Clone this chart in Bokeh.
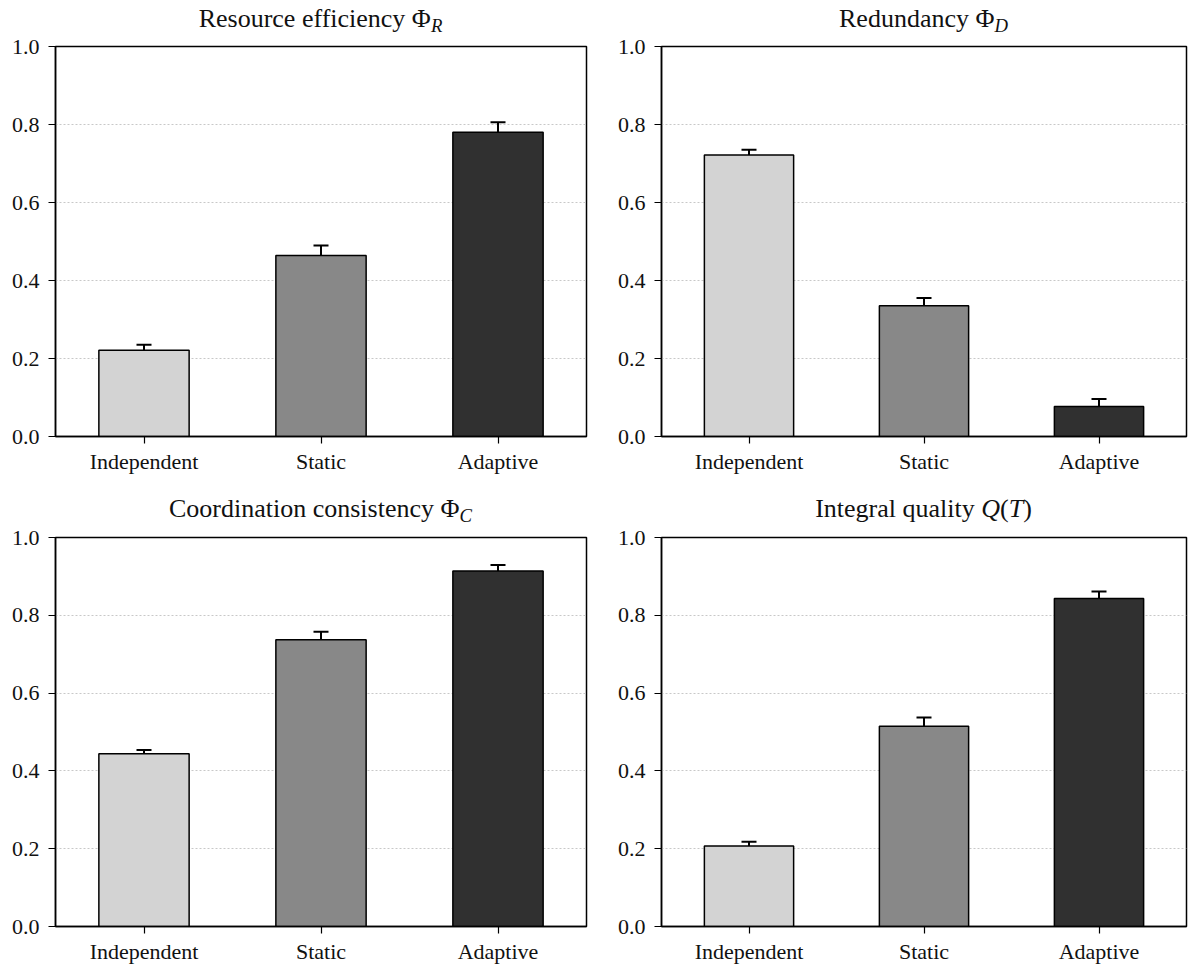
from bokeh.plotting import figure
from bokeh.layouts import column, row
from bokeh.models import (ColumnDataSource, Whisker, TeeHead, FactorRange, Range1d,
                          FixedTicker, NumeralTickFormatter, Div)
from bokeh.embed import file_html
from bokeh.resources import INLINE

categories = ["Independent", "Static", "Adaptive"]
bar_colors = ["#d3d3d3", "#888888", "#303030"]

SUB = '<span style="font-size:0.72em;vertical-align:-0.25em;line-height:0;font-style:italic">{}</span>'
titles = [
    "Resource efficiency Φ" + SUB.format("R"),
    "Redundancy Φ" + SUB.format("D"),
    "Coordination consistency Φ" + SUB.format("C"),
    "Integral quality <i>Q</i>(<i>T</i>)",
]

resource_mean = [0.221, 0.464, 0.780]
resource_err = [0.014, 0.026, 0.026]
redundancy_mean = [0.722, 0.335, 0.077]
redundancy_err = [0.013, 0.020, 0.019]
coordination_mean = [0.444, 0.737, 0.914]
coordination_err = [0.010, 0.021, 0.015]
quality_mean = [0.207, 0.515, 0.843]
quality_err = [0.011, 0.022, 0.018]

y_ticks = [0.0, 0.2, 0.4, 0.6, 0.8, 1.0]

FONT = "'Liberation Serif', 'Times New Roman', 'DejaVu Serif', serif"


def make_panel(title_html, means, errs, left, fw, right, top_div_h, pad_top, bottom, fh):
    src = ColumnDataSource(dict(
        cat=categories, val=means,
        up=[m + e for m, e in zip(means, errs)],
        lo=[m - e for m, e in zip(means, errs)],
        color=bar_colors,
    ))
    p = figure(x_range=FactorRange(*categories), y_range=Range1d(0, 1),
               frame_width=fw, frame_height=fh,
               min_border_left=left, min_border_right=right,
               min_border_top=12, min_border_bottom=bottom,
               output_backend="svg", toolbar_location=None,
               background_fill_color="white", border_fill_color="white")
    p.vbar(x="cat", top="val", width=0.51, source=src, fill_color="color",
           line_color="black", line_width=1.5)
    w = Whisker(source=src, base="cat", upper="up", lower="lo",
                line_color="black", line_width=2,
                upper_head=TeeHead(size=15, line_width=2, line_color="black"),
                lower_head=TeeHead(size=15, line_width=2, line_color="black"))
    p.add_layout(w)

    p.outline_line_color = "black"
    p.outline_line_width = 1.5
    p.xgrid.grid_line_color = None
    p.ygrid.grid_line_color = "#c8c8c8"
    p.ygrid.grid_line_dash = "2 2"
    p.ygrid.grid_line_width = 1
    p.yaxis.ticker = FixedTicker(ticks=y_ticks)
    p.yaxis.formatter = NumeralTickFormatter(format="0.0")
    for ax in (p.xaxis, p.yaxis):
        ax.axis_line_color = "black"
        ax.axis_line_width = 1.5
        ax.major_tick_line_color = "black"
        ax.major_tick_line_width = 1.2
        ax.major_tick_out = 7
        ax.major_tick_in = 0
        ax.minor_tick_line_color = None
        ax.major_label_text_font = FONT
        ax.major_label_text_font_size = "22px"
        ax.major_label_text_color = "#111111"
    p.yaxis.major_label_standoff = 9
    p.xaxis.major_label_standoff = 5

    div = Div(text=title_html, width=fw, height=top_div_h, margin=(0, 0, 0, left),
              styles={"font-family": FONT, "font-size": "26px", "text-align": "center",
                      "padding-top": f"{pad_top}px", "line-height": "1", "color": "#111111",
                      "width": f"{fw}px", "box-sizing": "border-box",
                      "white-space": "nowrap"})
    return column(div, p, margin=0, spacing=0)


c1 = make_panel(titles[0], resource_mean, resource_err, 55, 531, 12, 34, 6, 47, 390)
c2 = make_panel(titles[1], redundancy_mean, redundancy_err, 63, 525, 10, 34, 6, 47, 390)
c3 = make_panel(titles[2], coordination_mean, coordination_err, 55, 531, 12, 42, 13, 41, 389)
c4 = make_panel(titles[3], quality_mean, quality_err, 63, 525, 10, 42, 13, 41, 389)

layout = column(row(c1, c2, spacing=0), row(c3, c4, spacing=0), spacing=0)

open("out.html", "w").write(file_html(layout, INLINE))
